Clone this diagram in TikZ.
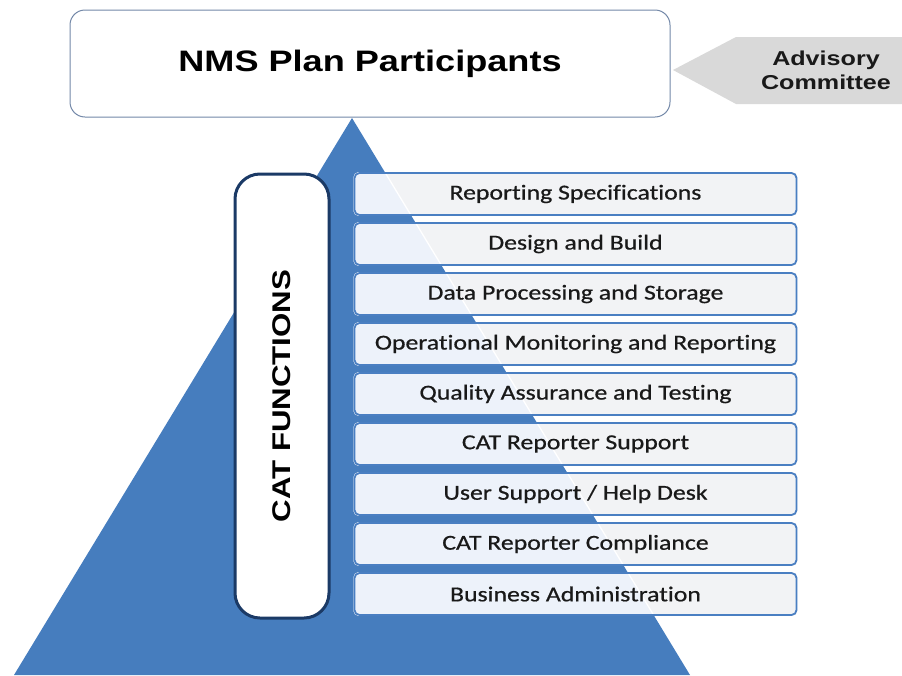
\documentclass[tikz,border=0pt]{standalone}
\usepackage{fontspec}
\setmainfont{Liberation Sans}
\newfontfamily\calib[Ligatures=NoCommon,FakeBold=0.6]{Carlito}
\pgfdeclarelayer{bgA}
\pgfdeclarelayer{bgB}
\pgfsetlayers{bgA,bgB,main}
\definecolor{triblue}{HTML}{467DBE}
\definecolor{boxline}{HTML}{4A7FC2}
\definecolor{boxgray}{HTML}{F2F3F5}
\definecolor{boxblue}{HTML}{EDF2FA}
\definecolor{topline}{HTML}{7388A8}
\definecolor{navy}{HTML}{1B3A66}
\definecolor{advgray}{HTML}{D9D9D9}
\newcommand\fnx[1]{\scalebox{1.21}[1]{#1}}
\begin{document}
\begin{tikzpicture}[x=1pt,y=-1pt,
  funcbox/.style={draw=boxline, line width=1.8pt, rounded corners=5pt,
    minimum width=442pt, minimum height=42pt, inner sep=0pt, text=black!90,
    font=\calib\fontsize{21.3}{24}\selectfont},
  topbox/.style={draw=topline, line width=1pt, fill=white, rounded corners=15pt,
    minimum width=600pt, minimum height=107pt, inner sep=0pt},
  catbox/.style={draw=navy, line width=3pt, fill=white, rounded corners=25pt,
    minimum width=94pt, minimum height=444pt, inner sep=0pt},
  advshape/.style={fill=advgray},
  trishape/.style={fill=triblue}]
\useasboundingbox (0,0) rectangle (902,675);

% triangle
\coordinate (apex) at (352,118);
\coordinate (bl) at (14,675);
\coordinate (br) at (690,675);
\begin{pgfonlayer}{bgA}
  \fill[trishape] (apex) -- (bl) -- (br) -- cycle;
\end{pgfonlayer}

% top box
\node[topbox] (npp) at (370,63.5)
  {\scalebox{1.22}[1]{\fontsize{29.6}{32}\selectfont\bfseries NMS Plan Participants}};

% advisory committee arrow
\coordinate (advtip) at (673,70);
\fill[advshape] (advtip) -- (736,37) -- (902,37) -- (902,104) -- (736,104) -- cycle;
\node[align=center, text=black!90, font=\fontsize{20.1}{24}\selectfont\bfseries] (adv) at (826,70)
  {\scalebox{1.25}[1]{Advisory}\\\scalebox{1.25}[1]{Committee}};

% CAT functions box
\node[catbox] (cat) at (282,396) {};
\node[rotate=90, font=\fontsize{25.6}{28}\selectfont\bfseries] (catlbl) at (cat.center)
  {\scalebox{1.22}[1]{CAT FUNCTIONS}};

% function boxes
\node[funcbox] (f1) at (575.5,194) {\fnx{Reporting Specifications}};
\node[funcbox] (f2) at (575.5,244) {\fnx{Design and Build}};
\node[funcbox] (f3) at (575.5,294) {\fnx{Data Processing and Storage}};
\node[funcbox] (f4) at (575.5,344) {\fnx{Operational Monitoring and Reporting}};
\node[funcbox] (f5) at (575.5,394) {\fnx{Quality Assurance and Testing}};
\node[funcbox] (f6) at (575.5,444) {\fnx{CAT Reporter Support}};
\node[funcbox] (f7) at (575.5,494) {\fnx{User Support / Help Desk}};
\node[funcbox] (f8) at (575.5,544) {\fnx{CAT Reporter Compliance}};
\node[funcbox] (f9) at (575.5,594) {\fnx{Business Administration}};

\begin{pgfonlayer}{bgB}
  \foreach \n in {f1,f2,f3,f4,f5,f6,f7,f8,f9}
    \fill[boxgray, rounded corners=5pt] (\n.north west) rectangle (\n.south east);
  \begin{scope}
    \clip (apex) -- (bl) -- (br) -- cycle;
    \foreach \n in {f1,f2,f3,f4,f5,f6,f7,f8,f9}
      \fill[boxblue, rounded corners=5pt] (\n.north west) rectangle (\n.south east);
  \end{scope}
  \begin{scope}
    \clip (f1.north west) rectangle (f1.south east)
          (f2.north west) rectangle (f2.south east)
          (f3.north west) rectangle (f3.south east)
          (f4.north west) rectangle (f4.south east)
          (f5.north west) rectangle (f5.south east)
          (f6.north west) rectangle (f6.south east)
          (f7.north west) rectangle (f7.south east)
          (f8.north west) rectangle (f8.south east)
          (f9.north west) rectangle (f9.south east);
    \draw[white, line width=1.3pt] (apex) -- (br);
  \end{scope}
\end{pgfonlayer}
\end{tikzpicture}
\end{document}
